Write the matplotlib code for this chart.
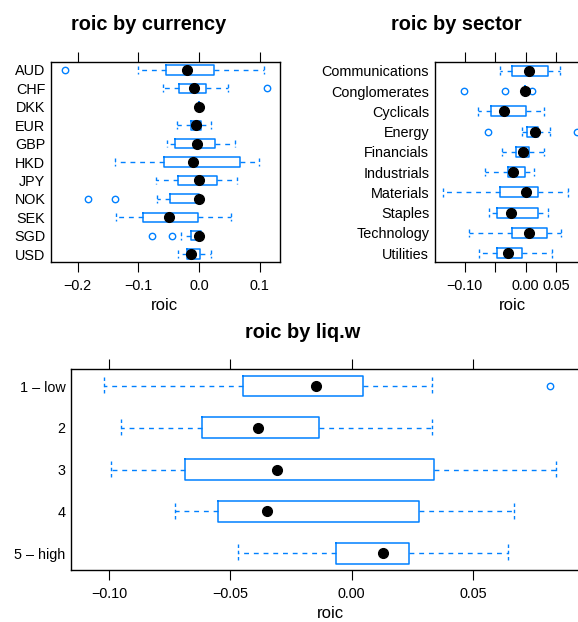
import matplotlib
matplotlib.use("Agg")
import matplotlib.pyplot as plt

plt.rcParams['font.family'] = ['Liberation Sans', 'DejaVu Sans']

BLUE = "#0080ff"

# ---------------- data ----------------
cur_cats = ["AUD", "CHF", "DKK", "EUR", "GBP", "HKD", "JPY", "NOK", "SEK", "SGD", "USD"]
cur_wlo = [-0.100, -0.059, 0.000, -0.037, -0.052, -0.139, -0.071, -0.069, -0.136, -0.030, -0.034]
cur_q1 = [-0.054, -0.033, 0.000, -0.013, -0.040, -0.057, -0.034, -0.048, -0.092, -0.014, -0.020]
cur_med = [-0.019, -0.008, 0.000, -0.005, -0.004, -0.010, 0.000, 0.000, -0.050, 0.000, -0.013]
cur_q3 = [0.024, 0.011, 0.000, 0.004, 0.027, 0.068, 0.029, 0.000, -0.002, 0.003, 0.002]
cur_whi = [0.107, 0.047, 0.000, 0.019, 0.059, 0.098, 0.063, 0.000, 0.053, 0.003, 0.019]
cur_out = [[-0.220], [0.112], [], [], [], [], [], [-0.1835, -0.138], [], [-0.077, -0.0445], []]

sec_cats = ["Communications", "Conglomerates", "Cyclicals", "Energy", "Financials",
            "Industrials", "Materials", "Staples", "Technology", "Utilities"]
sec_wlo = [-0.042, -0.001, -0.078, -0.006, -0.038, -0.066, -0.135, -0.060, -0.092, -0.076]
sec_q1 = [-0.022, -0.001, -0.057, 0.003, -0.015, -0.028, -0.042, -0.047, -0.023, -0.046]
sec_med = [0.006, -0.001, -0.035, 0.015, -0.004, -0.020, 0.001, -0.024, 0.0055, -0.028]
sec_q3 = [0.037, -0.001, 0.000, 0.020, 0.006, -0.001, 0.021, 0.020, 0.035, -0.0066]
sec_whi = [0.057, -0.001, 0.031, 0.040, 0.031, 0.014, 0.069, 0.037, 0.058, 0.044]
sec_out = [[], [-0.101, -0.0335, 0.011], [], [-0.0615, 0.084], [], [], [], [], [], []]

liq_cats = ["1 \u2013 low", "2", "3", "4", "5 \u2013 high"]
liq_wlo = [-0.1023, -0.0952, -0.0992, -0.0730, -0.0470]
liq_q1 = [-0.0448, -0.0618, -0.0689, -0.0552, -0.0065]
liq_med = [-0.0148, -0.0386, -0.0308, -0.0348, 0.0129]
liq_q3 = [0.0048, -0.0135, 0.0338, 0.0276, 0.0235]
liq_whi = [0.0333, 0.0333, 0.0844, 0.0667, 0.0645]
liq_out = [[0.0818], [], [], [], []]

W, H = 578, 622
fig = plt.figure(figsize=(W / 100, H / 100), dpi=100)


def px_axes(left, right, top, bottom):
    return fig.add_axes([left / W, 1 - bottom / H, (right - left) / W, (bottom - top) / H])


def bw(ax, cats, wlo, q1, med, q3, whi, outs, xlim, ticks, ticklabels, pad=0.57):
    n = len(cats)
    pos = list(range(1, n + 1))
    stats = []
    for i in range(n):
        stats.append(dict(med=med[i], q1=q1[i], q3=q3[i], whislo=wlo[i],
                          whishi=whi[i], fliers=outs[i]))
    ax.bxp(stats, positions=pos, widths=0.5, orientation='horizontal',
           showcaps=True, capwidths=0.42, patch_artist=False,
           boxprops=dict(color=BLUE, linewidth=1.1),
           whiskerprops=dict(color=BLUE, linewidth=1.0, linestyle=(0, (3.5, 3.5))),
           capprops=dict(color=BLUE, linewidth=1.0, linestyle=(0, (2.5, 2.0))),
           medianprops=dict(linewidth=0, color='none'),
           flierprops=dict(marker='o', markerfacecolor='none', markeredgecolor=BLUE,
                           markersize=4.6, markeredgewidth=1.0, linestyle='none'))
    ax.plot(med, pos, 'o', color='black', markersize=7.0, linestyle='none', zorder=5)
    ax.set_ylim(n + 1 - pad, pad)
    ax.set_yticks(pos)
    ax.set_yticklabels(cats, fontsize=10.4)
    ax.set_xlim(*xlim)
    ax.set_xticks(ticks)
    ax.set_xticklabels(ticklabels, fontsize=10.4)
    ax.tick_params(axis='y', length=0, pad=4)
    ax.tick_params(axis='x', direction='out', length=7, width=0.8, top=True, bottom=True,
                   labeltop=False, pad=5)
    for s in ax.spines.values():
        s.set_linewidth(1.0)
        s.set_color('black')
    ax.grid(False)


ax1 = px_axes(51, 280, 62, 262)
bw(ax1, cur_cats, cur_wlo, cur_q1, cur_med, cur_q3, cur_whi, cur_out,
   (-0.2438, 0.1334), [-0.2, -0.1, 0.0, 0.1], ["\u22120.2", "\u22120.1", "0.0", "0.1"])

ax2 = px_axes(434.7, 583.5, 62, 262)
bw(ax2, sec_cats, sec_wlo, sec_q1, sec_med, sec_q3, sec_whi, sec_out,
   (-0.1489, 0.095), [-0.10, -0.05, 0.0, 0.05], ["\u22120.10", "", "0.00", "0.05"])

ax3 = px_axes(71, 594.3, 369.3, 570)
bw(ax3, liq_cats, liq_wlo, liq_q1, liq_med, liq_q3, liq_whi, liq_out,
   (-0.1157, 0.1), [-0.10, -0.05, 0.0, 0.05],
   ["\u22120.10", "\u22120.05", "0.00", "0.05"], pad=0.6)

# titles and axis labels (figure pixel coordinates)
def ftext(x, y, s, **kw):
    fig.text(x / W, 1 - y / H, s, ha='center', va='center', **kw)

ftext(149, 24, "roic by currency", fontsize=14.4, fontweight='bold')
ftext(456.7, 24, "roic by sector", fontsize=14.4, fontweight='bold')
ftext(303, 333, "roic by liq.w", fontsize=14.4, fontweight='bold')

ftext(164, 306, "roic", fontsize=12)
ftext(512, 306, "roic", fontsize=12)
ftext(330, 613, "roic", fontsize=12)

fig.savefig("out.png", dpi=100)
